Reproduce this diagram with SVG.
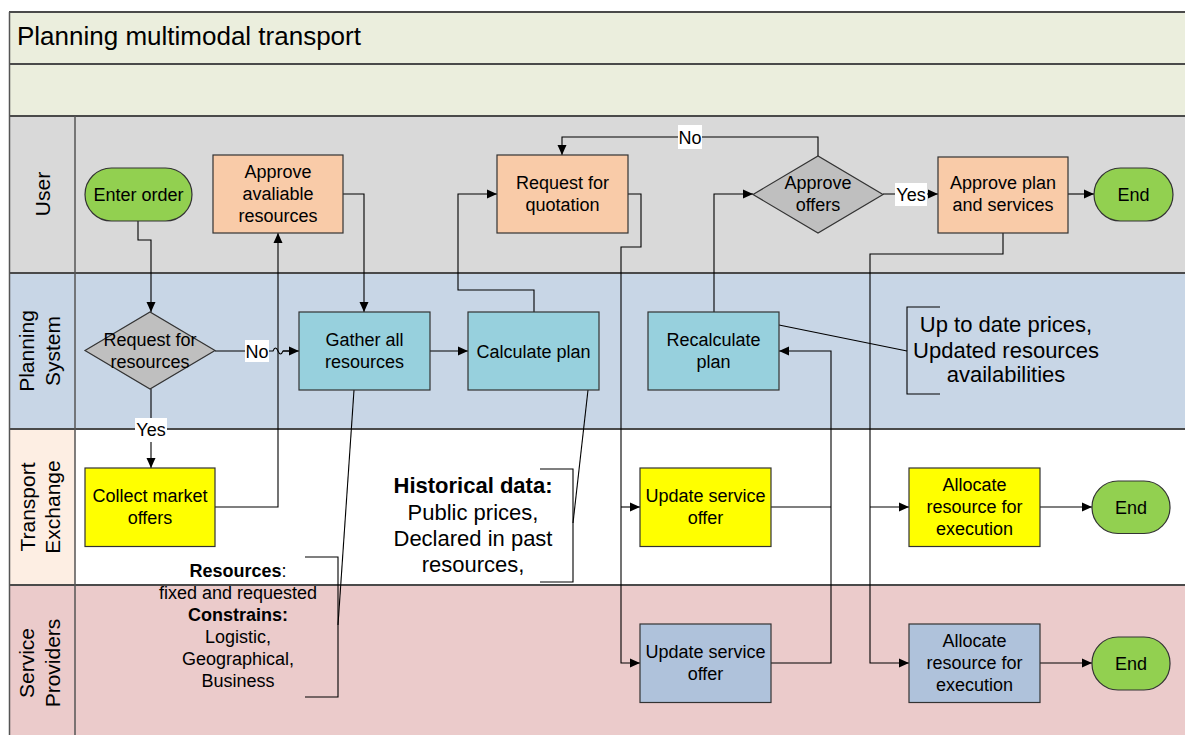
<svg xmlns="http://www.w3.org/2000/svg" width="1185" height="735" viewBox="0 0 1185 735">
<style>
text{font-family:"Liberation Sans",Arial,sans-serif;fill:#000}
.t{font-size:18px;text-anchor:middle}
.lane{font-size:21px;text-anchor:middle}
.ann{font-size:22px;text-anchor:middle}
.ann2{font-size:18px;text-anchor:middle}
.b{font-weight:bold}
.sep{stroke:#4a4a4a;stroke-width:2;fill:none}
.box{stroke:#333;stroke-width:1.2}
.peach{fill:#F9CBA8}
.teal{fill:#97D0DD}
.yel{fill:#FFFF00}
.blue{fill:#AFC2DB}
.green{fill:#92D050}
.gray{fill:#BFBFBF}
.c{fill:none;stroke:#000;stroke-width:1.1}
.ca{fill:none;stroke:#000;stroke-width:1.1;marker-end:url(#arr)}
.lbl{fill:#fff}
</style>
<defs>
<marker id="arr" markerUnits="userSpaceOnUse" markerWidth="11" markerHeight="10" refX="10" refY="5" orient="auto">
<path d="M0,0.5 L10,5 L0,9.5 z" fill="#000"/>
</marker>
</defs>

<g id="pool">
<rect x="9" y="12" width="1190" height="52" fill="#EBEEDD"/>
<rect x="9" y="64" width="1190" height="52" fill="#EBEEDD"/>
<rect x="9" y="116" width="1190" height="157" fill="#D9D9D9"/>
<rect x="9" y="273" width="1190" height="156" fill="#C8D6E6"/>
<rect x="9" y="429" width="66" height="156" fill="#FDEEE3"/>
<rect x="75" y="429" width="1124" height="156" fill="#FFFFFF"/>
<rect x="9" y="585" width="1190" height="160" fill="#EBCBCB"/>
<path class="sep" d="M9,12 H1199 M9,64 H1199 M9,116 H1199 M9,273 H1199 M9,429 H1199 M9,585 H1199" />
<path d="M9.5,12 V745 M75,116 V745" stroke="#555" stroke-width="1.5" fill="none"/>
<text x="17" y="45" style="font-size:26px">Planning multimodal transport</text>
<text class="lane" transform="translate(42,194) rotate(-90)" y="7.5">User</text>
<text class="lane" transform="translate(42,351) rotate(-90)"><tspan x="0" y="-8">Planning</tspan><tspan x="0" y="18">System</tspan></text>
<text class="lane" transform="translate(42,507) rotate(-90)"><tspan x="0" y="-7">Transport</tspan><tspan x="0" y="18">Exchange</tspan></text>
<text class="lane" transform="translate(42,663) rotate(-90)"><tspan x="0" y="-8">Service</tspan><tspan x="0" y="18">Providers</tspan></text>
</g>

<g id="connectors">
<path class="ca" d="M138,221 V240 H151 V312"/>
<path class="c" d="M215,351 H273 Q275.5,345 278,351 Q280.5,357 283,351 H289"/>
<path class="ca" d="M283,351 H299"/>
<rect class="lbl" x="245" y="340" width="24" height="22"/>
<text class="t" x="257" y="357.5">No</text>
<path class="ca" d="M151,389 V468"/>
<rect class="lbl" x="135" y="418" width="32" height="24"/>
<text class="t" x="151" y="436">Yes</text>
<path class="ca" d="M215,507 H278 V233"/>
<path class="ca" d="M343,194 H364 V312"/>
<path class="ca" d="M430,351 H468"/>
<path class="ca" d="M534,312 V290 H458 V194 H497"/>
<path class="ca" d="M628,194 H641 V247 H621 V663 H640"/>
<path class="ca" d="M621,507 H640"/>
<path class="c" d="M771,507 H831"/>
<path class="ca" d="M771,663 H831 V351 H779"/>
<path class="ca" d="M714,312 V194 H753"/>
<path class="ca" d="M818,156 V137 H562 V155"/>
<rect class="lbl" x="678" y="125" width="24" height="24"/>
<text class="t" x="690" y="143.5">No</text>
<path class="ca" d="M883,194 H938"/>
<rect class="lbl" x="895" y="183" width="32" height="23"/>
<text class="t" x="911" y="200.5">Yes</text>
<path class="ca" d="M1068,194 H1094"/>
<path class="ca" d="M1003,233 V254 H870 V663 H909"/>
<path class="ca" d="M870,507 H909"/>
<path class="ca" d="M1040,507 H1092"/>
<path class="ca" d="M1040,663 H1092"/>
</g>

<g id="annotations">
<path class="c" d="M354,390 L338,625"/>
<path class="c" d="M305,557 H338 V697 H305"/>
<text class="ann2"><tspan x="238" y="577" class="b">Resources<tspan style="font-weight:normal">:</tspan></tspan><tspan x="238" y="599">fixed and requested</tspan><tspan x="238" y="621" class="b">Constrains:</tspan><tspan x="238" y="643">Logistic,</tspan><tspan x="238" y="665">Geographical,</tspan><tspan x="238" y="687">Business</tspan></text>
<path class="c" d="M588,390 L573,523"/>
<path class="c" d="M540,469 H573 V582 H540"/>
<text class="ann"><tspan x="473" y="493" class="b">Historical data:</tspan><tspan x="473" y="519.5">Public prices,</tspan><tspan x="473" y="546">Declared in past</tspan><tspan x="473" y="572">resources,</tspan></text>
<path class="c" d="M779,325 L907,351"/>
<path class="c" d="M940,307 H907 V394 H940"/>
<text class="ann"><tspan x="1006" y="332">Up to date prices,</tspan><tspan x="1006" y="357.5">Updated resources</tspan><tspan x="1006" y="382">availabilities</tspan></text>
</g>

<g id="enter-order">
<rect class="box green" x="85" y="168" width="107" height="53" rx="26.5"/>
<text class="t" x="138.5" y="200.5">Enter order</text>
</g>
<g id="approve-available">
<rect class="box peach" x="213" y="155" width="130" height="78"/>
<text class="t"><tspan x="278" y="177.5">Approve</tspan><tspan x="278" y="199.5">avaliable</tspan><tspan x="278" y="221.5">resources</tspan></text>
</g>
<g id="request-resources">
<polygon class="box gray" points="85,350.5 150,312 215,350.5 150,389"/>
<text class="t"><tspan x="150" y="345.5">Request for</tspan><tspan x="150" y="367.5">resources</tspan></text>
</g>
<g id="collect-offers">
<rect class="box yel" x="85" y="468" width="130" height="78.5"/>
<text class="t"><tspan x="150" y="502">Collect market</tspan><tspan x="150" y="524">offers</tspan></text>
</g>
<g id="gather">
<rect class="box teal" x="299" y="312" width="131" height="78"/>
<text class="t"><tspan x="364.5" y="346">Gather all</tspan><tspan x="364.5" y="368">resources</tspan></text>
</g>
<g id="calculate">
<rect class="box teal" x="468" y="312" width="131" height="78"/>
<text class="t" x="533.5" y="357.5">Calculate plan</text>
</g>
<g id="request-quotation">
<rect class="box peach" x="497" y="155" width="131" height="78"/>
<text class="t"><tspan x="562.5" y="188.5">Request for</tspan><tspan x="562.5" y="210.5">quotation</tspan></text>
</g>
<g id="update-te">
<rect class="box yel" x="640" y="468" width="131" height="78.5"/>
<text class="t"><tspan x="705.5" y="502">Update service</tspan><tspan x="705.5" y="524">offer</tspan></text>
</g>
<g id="update-sp">
<rect class="box blue" x="640" y="624" width="131" height="78.5"/>
<text class="t"><tspan x="705.5" y="658">Update service</tspan><tspan x="705.5" y="680">offer</tspan></text>
</g>
<g id="recalculate">
<rect class="box teal" x="648" y="312" width="131" height="78"/>
<text class="t"><tspan x="713.5" y="345.5">Recalculate</tspan><tspan x="713.5" y="367.5">plan</tspan></text>
</g>
<g id="approve-offers">
<polygon class="box gray" points="753,194.5 818,156 883,194.5 818,233"/>
<text class="t"><tspan x="818" y="188.5">Approve</tspan><tspan x="818" y="210.5">offers</tspan></text>
</g>
<g id="approve-plan">
<rect class="box peach" x="938" y="157" width="130" height="76"/>
<text class="t"><tspan x="1003" y="188.5">Approve plan</tspan><tspan x="1003" y="210.5">and services</tspan></text>
</g>
<g id="end-user">
<rect class="box green" x="1094" y="168" width="79" height="53" rx="26.5"/>
<text class="t" x="1133.5" y="200.5">End</text>
</g>
<g id="allocate-te">
<rect class="box yel" x="909" y="468" width="131" height="78.5"/>
<text class="t"><tspan x="974.5" y="491">Allocate</tspan><tspan x="974.5" y="513">resource for</tspan><tspan x="974.5" y="535">execution</tspan></text>
</g>
<g id="end-te">
<rect class="box green" x="1092" y="481" width="78" height="52.5" rx="26"/>
<text class="t" x="1131" y="513.5">End</text>
</g>
<g id="allocate-sp">
<rect class="box blue" x="909" y="624" width="131" height="78.5"/>
<text class="t"><tspan x="974.5" y="647">Allocate</tspan><tspan x="974.5" y="669">resource for</tspan><tspan x="974.5" y="691">execution</tspan></text>
</g>
<g id="end-sp">
<rect class="box green" x="1092" y="637" width="78" height="53" rx="26"/>
<text class="t" x="1131" y="669.5">End</text>
</g>
</svg>
